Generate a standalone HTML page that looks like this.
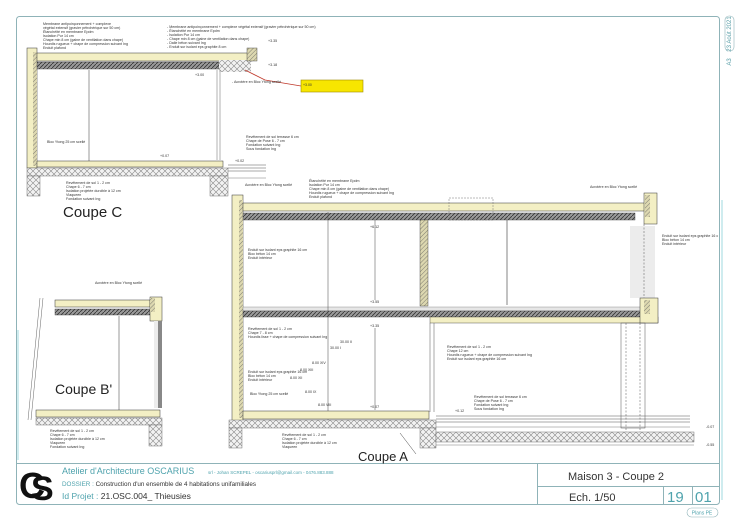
<!DOCTYPE html>
<html><head><meta charset="utf-8"><style>
html,body{margin:0;padding:0;background:#fff;width:736px;height:520px;overflow:hidden}
svg{display:block}
text{font-family:"Liberation Sans",sans-serif}
.n{font-size:3.6px;fill:#333}
</style></head><body>
<svg width="736" height="520" viewBox="0 0 736 520" xmlns="http://www.w3.org/2000/svg">
<defs>
<pattern id="hx" width="6" height="6" patternUnits="userSpaceOnUse">
<rect width="6" height="6" fill="#f2f2f2"/><path d="M0 6L6 0M0 0L6 6" stroke="#888" stroke-width="0.6"/></pattern>
<pattern id="dg" width="3" height="3" patternUnits="userSpaceOnUse" patternTransform="rotate(45)">
<rect width="3" height="3" fill="#ddd8b0"/><line x1="0" y1="0" x2="0" y2="3" stroke="#555" stroke-width="0.7"/></pattern>
<pattern id="sl" width="4" height="4" patternUnits="userSpaceOnUse">
<rect width="4" height="4" fill="#9a9a9a"/><path d="M0 4L4 0" stroke="#333" stroke-width="0.8"/></pattern>
</defs>
<!-- frame -->
<rect x="16.5" y="16.5" width="703" height="488" rx="3" fill="none" stroke="#8fb3b8" stroke-width="1"/>
<line x1="16" y1="463.5" x2="720" y2="463.5" stroke="#8fb3b8"/>
<line x1="537.5" y1="463" x2="537.5" y2="505" stroke="#8fb3b8"/>
<line x1="537" y1="486.5" x2="720" y2="486.5" stroke="#8fb3b8"/>
<line x1="663.5" y1="486" x2="663.5" y2="505" stroke="#8fb3b8"/>
<line x1="692.5" y1="486" x2="692.5" y2="505" stroke="#8fb3b8"/>
<line x1="722" y1="200" x2="722" y2="500" stroke="#bfe6ea" stroke-width="1.5"/>
<line x1="18" y1="330" x2="18" y2="460" stroke="#bfe6ea" stroke-width="1.5"/>
<rect x="725" y="16" width="9" height="35" rx="4" fill="none" stroke="#8fb3b8" stroke-width="0.6"/>
<text transform="translate(731,34) rotate(-90)" font-size="6" fill="#5a9fa8" text-anchor="middle">23 Août 2021</text>
<text transform="translate(731,62) rotate(-90)" font-size="6" fill="#5a9fa8" text-anchor="middle">A3</text>

<!-- ===== COUPE C ===== -->
<rect x="27" y="48" width="10" height="120" fill="#f3efc4" stroke="#333" stroke-width="0.5"/>
<rect x="33" y="52" width="4" height="114" fill="url(#dg)"/>
<rect x="37" y="53" width="215" height="8" fill="#f3efc4" stroke="#333" stroke-width="0.5"/>
<rect x="37" y="62" width="182" height="7" fill="url(#sl)" stroke="#333" stroke-width="0.4"/>
<rect x="219" y="60" width="32" height="12" fill="url(#hx)"/>
<rect x="247" y="48" width="10" height="13" fill="url(#dg)" stroke="#333" stroke-width="0.4"/>
<line x1="217" y1="70" x2="217" y2="160" stroke="#666" stroke-width="0.5"/>
<line x1="220" y1="70" x2="220" y2="160" stroke="#666" stroke-width="0.5"/>
<line x1="89" y1="70" x2="89" y2="162" stroke="#333" stroke-width="0.5"/>
<rect x="37" y="161" width="186" height="6" fill="#f3efc4" stroke="#333" stroke-width="0.5"/>
<rect x="27" y="168" width="201" height="8" fill="url(#hx)" stroke="#555" stroke-width="0.4"/>
<rect x="27" y="176" width="13" height="20" fill="url(#hx)" stroke="#555" stroke-width="0.4"/>
<rect x="210" y="176" width="18" height="20" fill="url(#hx)" stroke="#555" stroke-width="0.4"/>
<line x1="228" y1="165" x2="266" y2="165" stroke="#555" stroke-width="0.5"/>
<line x1="228" y1="168" x2="266" y2="168" stroke="#555" stroke-width="0.5"/>
<line x1="228" y1="171" x2="266" y2="171" stroke="#555" stroke-width="0.5"/>
<line x1="228" y1="178" x2="266" y2="178" stroke="#555" stroke-width="0.4"/>
<path d="M245 70L265 80L301 86" stroke="#c0392b" stroke-width="0.8" fill="none"/>
<rect x="301" y="80" width="62" height="12" fill="#f7e600" stroke="#a08a00" stroke-width="0.6"/>
<text x="303" y="86" font-size="3.5" fill="#333">+3.00</text>
<text x="63" y="217" font-size="15" fill="#222">Coupe C</text>
<g class="n">
<text x="43" y="25">Membrane antipoinçonnement + complexe</text>
<text x="43" y="29">végétal extensif (gravier pétrohérique sur 50 cm)</text>
<text x="43" y="33">Étanchéité en membrane Epdm</text>
<text x="43" y="37">Isolation Pur 14 cm</text>
<text x="43" y="41">Chape min 8 cm (gaine de ventilation dans chape)</text>
<text x="43" y="45">Hourdis rugueux + chape de compression suivant Ing</text>
<text x="43" y="49">Enduit plafond</text>
<text x="167" y="28">- Membrane antipoinçonnement + complexe végétal extensif (gravier pétrohérique sur 50 cm)</text>
<text x="167" y="32">- Étanchéité en membrane Epdm</text>
<text x="167" y="36">- Isolation Pur 14 cm</text>
<text x="167" y="40">- Chape min 8 cm (gaine de ventilation dans chape)</text>
<text x="167" y="44">- Dalle béton suivant Ing</text>
<text x="167" y="48">- Enduit sur isolant eps graphite 8 cm</text>
<text x="232" y="83">- Acrotère en Bloc Ytong scellé</text>
<text x="47" y="143">Bloc Ytong 25 cm scellé</text>
<text x="66" y="184">Revêtement de sol 1 - 2 cm</text>
<text x="66" y="188">Chape 6 - 7 cm</text>
<text x="66" y="192">Isolation projetée durcible à 12 cm</text>
<text x="66" y="196">Vlaqueen</text>
<text x="66" y="200">Fondation suivant Ing</text>
<text x="246" y="138">Revêtement de sol terrasse 6 cm</text>
<text x="246" y="142">Chape de Pose 6 - 7 cm</text>
<text x="246" y="146">Fondation suivant Ing</text>
<text x="246" y="150">Sous fondation Ing</text>
<text x="160" y="157">+0.07</text>
<text x="235" y="162">+0.02</text>
<text x="268" y="42">+3.35</text>
<text x="268" y="66">+3.18</text>
<text x="195" y="76">+3.00</text>
</g>

<!-- ===== COUPE A ===== -->
<rect x="232" y="195" width="11" height="226" fill="#f3efc4" stroke="#333" stroke-width="0.5"/>
<rect x="239" y="200" width="4" height="218" fill="url(#dg)"/>
<rect x="243" y="203" width="402" height="8" fill="#f3efc4" stroke="#333" stroke-width="0.5"/>
<rect x="243" y="213" width="392" height="7" fill="url(#sl)" stroke="#333" stroke-width="0.4"/>
<rect x="644" y="193" width="13" height="31" fill="#f3efc4" stroke="#333" stroke-width="0.5"/>
<rect x="645" y="195" width="5" height="22" fill="url(#dg)"/>
<rect x="630" y="226" width="25" height="72" fill="#ececec"/>
<line x1="644" y1="224" x2="644" y2="300" stroke="#555" stroke-width="0.5" stroke-dasharray="2,1.5"/>
<rect x="420" y="220" width="8" height="86" fill="url(#dg)" stroke="#333" stroke-width="0.4"/>
<line x1="507" y1="220" x2="507" y2="305" stroke="#666" stroke-width="0.8"/>
<rect x="449" y="198" width="44" height="22" fill="none" stroke="#777" stroke-width="0.5" stroke-dasharray="2,1"/>
<rect x="243" y="307" width="407" height="4" fill="#e6e6e6" stroke="#555" stroke-width="0.3"/>
<rect x="243" y="311" width="407" height="6" fill="url(#sl)" stroke="#333" stroke-width="0.4"/>
<rect x="430" y="317" width="228" height="6" fill="#f3efc4" stroke="#333" stroke-width="0.4"/>
<rect x="640" y="298" width="18" height="25" fill="#f3efc4" stroke="#333" stroke-width="0.5"/>
<rect x="644" y="300" width="6" height="14" fill="url(#dg)"/>
<line x1="430" y1="323" x2="430" y2="412" stroke="#555" stroke-width="0.5"/>
<line x1="434" y1="323" x2="434" y2="412" stroke="#555" stroke-width="0.5"/>
<rect x="621" y="323" width="24" height="105" fill="none" stroke="#555" stroke-width="0.5"/>
<line x1="626" y1="323" x2="626" y2="432" stroke="#555" stroke-width="0.5" stroke-dasharray="2,1.5"/>
<line x1="640" y1="323" x2="640" y2="432" stroke="#555" stroke-width="0.5" stroke-dasharray="2,1.5"/>
<line x1="328" y1="212" x2="328" y2="420" stroke="#444" stroke-width="0.5"/>
<line x1="375" y1="220" x2="375" y2="300" stroke="#444" stroke-width="0.5"/>
<line x1="375" y1="328" x2="375" y2="410" stroke="#444" stroke-width="0.5"/>
<rect x="243" y="411" width="186" height="8" fill="#f3efc4" stroke="#333" stroke-width="0.5"/>
<rect x="229" y="420" width="207" height="8" fill="url(#hx)" stroke="#555" stroke-width="0.4"/>
<rect x="229" y="428" width="13" height="20" fill="url(#hx)" stroke="#555" stroke-width="0.4"/>
<rect x="420" y="428" width="16" height="20" fill="url(#hx)" stroke="#555" stroke-width="0.4"/>
<line x1="436" y1="416" x2="690" y2="416" stroke="#555" stroke-width="0.5"/>
<line x1="436" y1="419" x2="690" y2="419" stroke="#555" stroke-width="0.5"/>
<line x1="436" y1="422" x2="690" y2="422" stroke="#555" stroke-width="0.5"/>
<line x1="436" y1="427" x2="690" y2="427" stroke="#555" stroke-width="0.4"/>
<rect x="436" y="432" width="258" height="10" fill="url(#hx)" stroke="#555" stroke-width="0.4"/>
<line x1="436" y1="445" x2="694" y2="445" stroke="#555" stroke-width="0.4"/>
<line x1="400" y1="433" x2="416" y2="454" stroke="#444" stroke-width="0.5"/>
<text x="358" y="461" font-size="13" fill="#222">Coupe A</text>
<g class="n">
<text x="309" y="182">Étanchéité en membrane Epdm</text>
<text x="309" y="186">Isolation Pur 14 cm</text>
<text x="309" y="190">Chape min 8 cm (gaine de ventilation dans chape)</text>
<text x="309" y="194">Hourdis rugueux + chape de compression suivant Ing</text>
<text x="309" y="198">Enduit plafond</text>
<text x="245" y="186">Acrotère en Bloc Ytong scellé</text>
<text x="590" y="188">Acrotère en Bloc Ytong scellé</text>
<text x="248" y="251">Enduit sur isolant eps graphite 16 cm</text>
<text x="248" y="255">Bloc béton 14 cm</text>
<text x="248" y="259">Enduit intérieur</text>
<text x="662" y="237">Enduit sur isolant eps graphite 16 c</text>
<text x="662" y="241">Bloc béton 14 cm</text>
<text x="662" y="245">Enduit intérieur</text>
<text x="248" y="330">Revêtement de sol 1 - 2 cm</text>
<text x="248" y="334">Chape 7 - 8 cm</text>
<text x="248" y="338">Hourdis lisse + chape de compression suivant Ing</text>
<text x="248" y="373">Enduit sur isolant eps graphite 16 cm</text>
<text x="248" y="377">Bloc béton 14 cm</text>
<text x="248" y="381">Enduit intérieur</text>
<text x="250" y="395">Bloc Ytong 25 cm scellé</text>
<text x="447" y="348">Revêtement de sol 1 - 2 cm</text>
<text x="447" y="352">Chape 12 cm</text>
<text x="447" y="356">Hourdis rugueux + chape de compression suivant Ing</text>
<text x="447" y="360">Enduit sur isolant eps graphite 16 cm</text>
<text x="474" y="398">Revêtement de sol terrasse 6 cm</text>
<text x="474" y="402">Chape de Pose 6 - 7 cm</text>
<text x="474" y="406">Fondation suivant Ing</text>
<text x="474" y="410">Sous fondation Ing</text>
<text x="282" y="436">Revêtement de sol 1 - 2 cm</text>
<text x="282" y="440">Chape 6 - 7 cm</text>
<text x="282" y="444">Isolation projetée durcible à 12 cm</text>
<text x="282" y="448">Vlaqueen</text>
<text x="370" y="228">+6.12</text>
<text x="370" y="303">+3.55</text>
<text x="370" y="327">+3.35</text>
<text x="370" y="408">+0.07</text>
<text x="455" y="412">+0.12</text>
<text x="706" y="428">-0.07</text>
<text x="706" y="446">-0.55</text>
<text x="340" y="343">30.00 II</text><text x="330" y="349">30.00 I</text>
<text x="312" y="364">8.00 XIV</text><text x="300" y="371">8.00 XIII</text>
<text x="290" y="379">8.00 XII</text><text x="305" y="393">8.00 IX</text>
<text x="318" y="406">8.00 VIII</text>
</g>

<!-- ===== COUPE B' ===== -->
<path d="M40 298L28 420M43 298L31 420" stroke="#666" stroke-width="0.5" fill="none"/>
<rect x="55" y="300" width="95" height="7" fill="#f3efc4" stroke="#333" stroke-width="0.5"/>
<rect x="55" y="309" width="97" height="6" fill="url(#sl)" stroke="#333" stroke-width="0.4"/>
<rect x="150" y="297" width="12" height="24" fill="#f3efc4" stroke="#333" stroke-width="0.5"/>
<rect x="150" y="298" width="5" height="14" fill="url(#dg)"/>
<rect x="158" y="321" width="4" height="87" fill="#888"/>
<rect x="154" y="321" width="4" height="87" fill="#ececec"/>
<line x1="119" y1="316" x2="119" y2="410" stroke="#333" stroke-width="0.5"/>
<rect x="36" y="410" width="124" height="7" fill="#f3efc4" stroke="#333" stroke-width="0.5"/>
<rect x="36" y="418" width="126" height="7" fill="url(#hx)" stroke="#555" stroke-width="0.4"/>
<rect x="149" y="425" width="13" height="21" fill="url(#hx)" stroke="#555" stroke-width="0.4"/>
<text x="55" y="394" font-size="14" fill="#222">Coupe B'</text>
<g class="n">
<text x="95" y="284">Acrotère en Bloc Ytong scellé</text>
<text x="50" y="432">Revêtement de sol 1 - 2 cm</text>
<text x="50" y="436">Chape 6 - 7 cm</text>
<text x="50" y="440">Isolation projetée durcible à 12 cm</text>
<text x="50" y="444">Vlaqueen</text>
<text x="50" y="448">Fondation suivant Ing</text>
</g>

<!-- ===== TITLE BLOCK ===== -->
<text x="19" y="498" font-size="36" font-weight="bold" fill="#111">C</text>
<text x="31" y="500" font-size="34" font-weight="bold" fill="#111">S</text>
<text x="62" y="474" font-size="9" fill="#4fa3ad">Atelier d'Architecture OSCARIUS</text>
<text x="208" y="474" font-size="4.5" fill="#4fa3ad">srl - Johan SCREPEL - oscariusprl@gmail.com - 0476.883.888</text>
<text x="62" y="486" font-size="6.3" fill="#4fa3ad">DOSSIER : <tspan fill="#333">Construction d'un ensemble de 4 habitations unifamiliales</tspan></text>
<text x="62" y="499" font-size="8.5" fill="#4fa3ad">Id Projet : <tspan fill="#333">21.OSC.004_ Thieusies</tspan></text>
<text x="568" y="480" font-size="11" fill="#333">Maison 3 - Coupe 2</text>
<text x="569" y="501" font-size="11" fill="#333">Ech. 1/50</text>
<text x="667" y="502" font-size="15" fill="#4fa3ad">19</text>
<text x="695" y="502" font-size="15" fill="#4fa3ad">01</text>
<rect x="687" y="508" width="31" height="9" rx="4.5" fill="none" stroke="#8fb3b8" stroke-width="0.6"/>
<text x="702" y="514.5" font-size="5" fill="#4fa3ad" text-anchor="middle">Plans PE</text>
</svg>
</body></html>
